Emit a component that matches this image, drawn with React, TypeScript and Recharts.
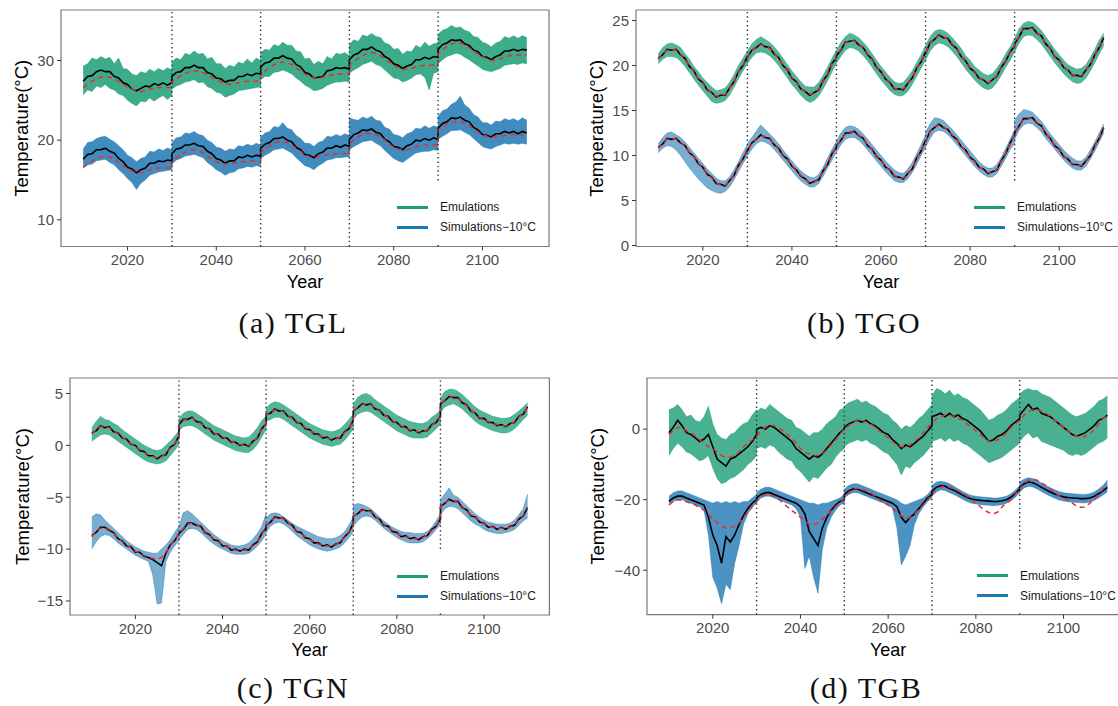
import React from 'react';
import { ComposedChart, Area, Line, XAxis, YAxis, ReferenceLine, ReferenceArea } from 'recharts';

// years: five 20-year blocks, block edges repeated so each block starts fresh
const YEARS = [
  2010, 2011, 2012, 2013, 2014, 2015, 2016, 2017, 2018, 2019, 2020, 2021, 2022, 2023, 2024, 2025, 2026, 2027, 2028, 2029, 2030,
  2030, 2031, 2032, 2033, 2034, 2035, 2036, 2037, 2038, 2039, 2040, 2041, 2042, 2043, 2044, 2045, 2046, 2047, 2048, 2049, 2050,
  2050, 2051, 2052, 2053, 2054, 2055, 2056, 2057, 2058, 2059, 2060, 2061, 2062, 2063, 2064, 2065, 2066, 2067, 2068, 2069, 2070,
  2070, 2071, 2072, 2073, 2074, 2075, 2076, 2077, 2078, 2079, 2080, 2081, 2082, 2083, 2084, 2085, 2086, 2087, 2088, 2089, 2090,
  2090, 2091, 2092, 2093, 2094, 2095, 2096, 2097, 2098, 2099, 2100, 2101, 2102, 2103, 2104, 2105, 2106, 2107, 2108, 2109, 2110,
];
const X_TICKS = [2020, 2040, 2060, 2080, 2100];
const BREAKS = [2030, 2050, 2070, 2090];

// ---- (a) TGL ----
const TGL_EMU_LO = [
  25.7, 26.3, 26.1, 26.8, 26.6, 27.0, 26.5, 26.3, 25.8, 25.6, 25.0, 24.6, 24.3, 24.9, 24.8, 25.3, 24.9, 25.3, 25.6, 25.1, 25.6,
  26.4, 26.8, 27.0, 27.3, 27.4, 27.6, 27.2, 27.3, 26.7, 26.5, 26.0, 25.9, 25.4, 25.6, 25.8, 26.2, 26.3, 26.4, 26.5, 26.6, 26.7,
  27.6, 28.0, 28.0, 28.5, 28.6, 28.8, 28.6, 28.3, 27.8, 27.4, 26.9, 26.6, 26.2, 26.3, 26.5, 26.9, 27.1, 27.3, 27.3, 27.4, 27.3,
  28.4, 28.8, 29.1, 29.5, 29.7, 29.9, 29.5, 29.3, 28.8, 28.3, 27.8, 27.7, 27.3, 27.5, 27.8, 28.2, 28.3, 27.9, 26.3, 28.4, 28.6,
  29.6, 30.1, 30.5, 30.7, 30.9, 30.8, 30.4, 30.1, 29.7, 29.3, 28.9, 28.7, 28.6, 28.8, 29.0, 29.4, 29.5, 29.6, 29.5, 29.7, 29.6,
];
const TGL_EMU_HI = [
  29.3, 29.6, 30.3, 30.1, 30.5, 30.2, 30.4, 29.6, 30.3, 29.0, 28.9, 28.3, 28.1, 28.6, 28.4, 28.9, 28.6, 29.0, 28.7, 29.1, 28.8,
  29.8, 30.3, 30.1, 30.9, 30.7, 31.2, 30.8, 30.9, 30.2, 30.4, 29.6, 29.6, 29.0, 29.4, 29.2, 29.8, 29.6, 30.2, 29.7, 30.3, 30.0,
  31.0, 31.4, 31.3, 32.0, 31.8, 32.3, 31.9, 31.9, 31.2, 31.1, 30.2, 30.3, 29.5, 29.9, 29.6, 30.5, 30.2, 30.9, 30.8, 31.0, 30.6,
  32.0, 32.6, 32.4, 33.2, 33.0, 33.4, 33.0, 32.9, 32.2, 32.0, 31.4, 31.5, 30.8, 31.2, 31.1, 31.9, 31.6, 32.3, 31.8, 32.1, 32.2,
  33.3, 33.8, 34.0, 34.4, 34.1, 34.2, 33.8, 33.6, 33.0, 32.9, 32.3, 32.1, 31.7, 32.2, 32.4, 33.0, 32.8, 33.1, 32.8, 33.1, 32.9,
];
const TGL_EMU_MEAN = [
  27.4, 28.0, 28.1, 28.6, 28.8, 28.6, 28.6, 28.0, 27.8, 27.2, 27.0, 26.4, 26.2, 26.5, 26.8, 26.7, 27.1, 26.9, 27.2, 26.9, 27.2,
  28.0, 28.5, 28.6, 29.1, 29.1, 29.4, 29.1, 29.1, 28.5, 28.3, 27.8, 27.7, 27.3, 27.5, 27.5, 28.0, 28.0, 28.3, 28.1, 28.4, 28.3,
  29.2, 29.7, 29.8, 30.3, 30.3, 30.6, 30.3, 30.2, 29.5, 29.2, 28.5, 28.3, 27.8, 27.9, 28.0, 28.7, 28.8, 29.1, 29.0, 29.1, 28.9,
  30.1, 30.7, 30.9, 31.4, 31.4, 31.7, 31.3, 31.1, 30.5, 30.2, 29.6, 29.4, 29.0, 29.3, 29.5, 30.1, 30.1, 30.4, 30.2, 30.5, 30.4,
  31.4, 32.0, 32.2, 32.6, 32.5, 32.6, 32.1, 31.9, 31.3, 31.1, 30.5, 30.4, 30.1, 30.5, 30.7, 31.2, 31.2, 31.4, 31.2, 31.4, 31.3,
];
const TGL_EMU_REF = [
  26.6, 27.0, 27.4, 27.7, 27.9, 28.0, 27.9, 27.7, 27.4, 27.0, 26.7, 26.4, 26.2, 26.1, 26.2, 26.4, 26.5, 26.6, 26.6, 26.6, 26.6,
  27.3, 27.7, 28.1, 28.4, 28.6, 28.7, 28.7, 28.5, 28.2, 27.9, 27.6, 27.3, 27.1, 27.0, 27.1, 27.2, 27.3, 27.4, 27.4, 27.4, 27.5,
  28.2, 28.7, 29.1, 29.5, 29.7, 29.8, 29.7, 29.5, 29.1, 28.7, 28.3, 28.0, 27.8, 27.8, 27.9, 28.1, 28.2, 28.3, 28.3, 28.3, 28.4,
  29.4, 29.9, 30.3, 30.6, 30.9, 31.0, 30.9, 30.6, 30.2, 29.8, 29.4, 29.1, 28.9, 28.9, 29.0, 29.2, 29.3, 29.4, 29.4, 29.4, 29.4,
  30.8, 31.3, 31.8, 32.1, 32.2, 32.2, 32.0, 31.6, 31.2, 30.8, 30.5, 30.2, 30.0, 30.0, 30.2, 30.4, 30.6, 30.7, 30.7, 30.7, 30.7,
];
const TGL_SIM_LO = [
  16.5, 16.9, 17.0, 17.4, 17.5, 17.6, 17.2, 16.9, 16.3, 15.8, 15.2, 14.7, 13.8, 14.6, 15.0, 15.6, 15.8, 16.0, 16.1, 16.2, 16.3,
  17.0, 17.5, 17.7, 18.0, 18.1, 18.2, 18.0, 17.8, 17.2, 16.8, 16.3, 16.0, 15.6, 15.9, 16.0, 16.4, 16.5, 16.7, 16.6, 16.8, 16.7,
  17.7, 18.1, 18.4, 18.8, 18.9, 19.0, 18.7, 18.4, 17.8, 17.3, 16.8, 16.6, 16.3, 16.8, 17.1, 17.5, 17.6, 17.8, 17.8, 17.9, 17.9,
  18.8, 19.2, 19.5, 19.8, 19.9, 20.0, 19.6, 19.3, 18.7, 18.2, 17.7, 17.4, 17.2, 17.6, 18.0, 18.4, 18.5, 18.6, 18.6, 18.8, 18.7,
  20.1, 20.5, 20.8, 21.2, 21.2, 21.3, 21.0, 20.7, 20.2, 19.7, 19.2, 19.0, 18.9, 19.2, 19.4, 19.6, 19.5, 19.6, 19.5, 19.6, 19.5,
];
const TGL_SIM_HI = [
  18.9, 19.7, 19.8, 20.2, 20.4, 20.5, 20.1, 19.8, 19.3, 18.8, 18.1, 17.8, 17.3, 17.7, 17.9, 18.6, 18.5, 18.9, 18.7, 19.0, 18.8,
  19.7, 20.3, 20.4, 20.9, 20.8, 21.1, 20.7, 20.6, 20.0, 19.7, 19.1, 19.0, 18.6, 18.9, 18.8, 19.3, 19.2, 19.5, 19.3, 19.6, 19.4,
  20.4, 20.9, 21.1, 21.7, 21.6, 22.2, 21.5, 21.3, 20.6, 20.2, 19.6, 19.6, 19.2, 19.7, 19.9, 20.5, 20.4, 20.7, 20.5, 20.8, 20.6,
  22.8, 22.6, 22.5, 22.9, 22.7, 23.0, 22.5, 22.4, 21.6, 21.4, 20.7, 20.6, 20.3, 20.8, 21.0, 21.5, 21.4, 21.8, 21.5, 21.8, 21.6,
  23.0, 23.7, 23.9, 24.5, 24.8, 25.5, 24.4, 24.0, 23.2, 22.9, 22.2, 22.2, 21.9, 22.4, 22.3, 22.7, 22.5, 22.7, 22.4, 22.8, 22.5,
];
const TGL_SIM_MEAN = [
  17.6, 18.2, 18.3, 18.8, 18.8, 19.0, 18.6, 18.4, 17.7, 17.3, 16.6, 16.4, 15.9, 16.3, 16.5, 17.1, 17.1, 17.4, 17.3, 17.5, 17.4,
  18.3, 18.9, 19.0, 19.4, 19.4, 19.6, 19.3, 19.2, 18.6, 18.3, 17.7, 17.5, 17.1, 17.4, 17.4, 17.9, 17.8, 18.1, 17.9, 18.1, 18.0,
  19.0, 19.5, 19.7, 20.2, 20.2, 20.4, 20.0, 19.8, 19.1, 18.8, 18.2, 18.1, 17.8, 18.3, 18.5, 19.0, 19.0, 19.3, 19.1, 19.4, 19.2,
  20.1, 20.7, 20.9, 21.3, 21.2, 21.4, 21.0, 20.8, 20.1, 19.8, 19.2, 19.1, 18.8, 19.3, 19.5, 20.0, 19.9, 20.2, 20.0, 20.3, 20.1,
  21.5, 22.1, 22.3, 22.8, 22.7, 22.9, 22.5, 22.3, 21.6, 21.3, 20.7, 20.6, 20.4, 20.8, 20.8, 21.1, 20.9, 21.1, 20.8, 21.1, 20.9,
];
const TGL_SIM_REF = [
  16.6, 17.0, 17.4, 17.7, 17.9, 18.0, 17.9, 17.6, 17.2, 16.8, 16.4, 16.1, 15.9, 15.9, 16.1, 16.3, 16.4, 16.5, 16.5, 16.5, 16.5,
  17.3, 17.8, 18.2, 18.5, 18.7, 18.8, 18.7, 18.4, 18.0, 17.6, 17.3, 17.1, 17.0, 17.0, 17.1, 17.2, 17.3, 17.3, 17.4, 17.4, 17.4,
  18.4, 18.9, 19.3, 19.6, 19.8, 19.8, 19.7, 19.4, 19.0, 18.6, 18.2, 17.9, 17.8, 17.9, 18.0, 18.2, 18.3, 18.3, 18.3, 18.3, 18.4,
  19.5, 20.0, 20.4, 20.7, 20.8, 20.8, 20.7, 20.4, 20.0, 19.5, 19.1, 18.9, 18.8, 18.8, 19.0, 19.2, 19.3, 19.4, 19.4, 19.4, 19.4,
  21.3, 21.7, 22.0, 22.2, 22.3, 22.3, 22.1, 21.8, 21.4, 21.0, 20.7, 20.5, 20.4, 20.4, 20.5, 20.6, 20.7, 20.7, 20.7, 20.7, 20.7,
];

// ---- (b) TGO ----
const TGO_EMU_LO = [
  20.2, 20.7, 21.0, 21.0, 20.9, 20.5, 19.9, 19.2, 18.5, 17.8, 17.2, 16.6, 16.0, 15.8, 15.9, 16.1, 16.7, 17.6, 18.5, 19.4, 20.2,
  20.2, 20.9, 21.4, 21.5, 21.4, 21.1, 20.6, 20.0, 19.3, 18.6, 17.9, 17.3, 16.7, 16.2, 15.9, 16.1, 16.6, 17.4, 18.3, 19.3, 20.2,
  20.3, 21.0, 21.7, 22.0, 21.9, 21.6, 21.1, 20.5, 19.8, 19.1, 18.4, 17.8, 17.2, 16.8, 16.6, 16.7, 17.1, 17.9, 18.8, 19.7, 20.6,
  20.6, 21.6, 22.2, 22.5, 22.4, 22.1, 21.6, 21.0, 20.3, 19.6, 19.0, 18.4, 17.9, 17.5, 17.3, 17.5, 18.1, 18.9, 19.8, 20.6, 21.5,
  21.5, 22.5, 23.2, 23.4, 23.3, 22.9, 22.4, 21.7, 21.0, 20.3, 19.7, 19.1, 18.6, 18.2, 18.0, 18.1, 18.6, 19.4, 20.3, 21.3, 22.2,
];
const TGO_EMU_HI = [
  21.3, 22.0, 22.4, 22.5, 22.3, 22.0, 21.3, 20.7, 19.9, 19.3, 18.6, 18.1, 17.6, 17.2, 17.3, 17.5, 18.1, 19.0, 20.0, 20.8, 21.6,
  21.6, 22.4, 22.9, 23.2, 22.9, 22.6, 22.1, 21.5, 20.8, 20.1, 19.4, 18.8, 18.2, 17.7, 17.6, 17.6, 18.1, 18.9, 19.8, 20.8, 21.7,
  21.7, 22.6, 23.2, 23.6, 23.4, 23.1, 22.6, 22.0, 21.3, 20.6, 19.9, 19.3, 18.7, 18.2, 18.0, 18.1, 18.7, 19.4, 20.3, 21.2, 22.2,
  22.2, 23.2, 23.8, 24.0, 23.9, 23.6, 23.1, 22.5, 21.9, 21.1, 20.6, 19.9, 19.5, 19.1, 18.9, 19.1, 19.7, 20.4, 21.3, 22.1, 23.0,
  23.0, 24.1, 24.7, 24.9, 24.8, 24.4, 23.9, 23.2, 22.5, 21.8, 21.2, 20.6, 20.1, 19.8, 19.6, 19.7, 20.1, 20.9, 21.8, 22.8, 23.6,
];
const TGO_EMU_MEAN = [
  20.8, 21.2, 21.8, 21.7, 21.8, 21.2, 20.8, 19.9, 19.4, 18.5, 18.1, 17.3, 17.0, 16.5, 16.7, 16.7, 17.5, 18.2, 19.3, 20.0, 21.0,
  20.9, 21.7, 22.0, 22.4, 22.1, 22.0, 21.3, 20.9, 20.0, 19.5, 18.6, 18.2, 17.4, 17.1, 16.7, 17.0, 17.3, 18.3, 19.0, 20.2, 20.9,
  21.1, 21.7, 22.6, 22.7, 22.8, 22.3, 22.0, 21.2, 20.7, 19.8, 19.3, 18.5, 18.1, 17.4, 17.4, 17.3, 18.0, 18.6, 19.7, 20.4, 21.5,
  21.3, 22.5, 22.9, 23.4, 23.1, 23.0, 22.3, 21.9, 21.0, 20.5, 19.7, 19.3, 18.6, 18.4, 18.0, 18.4, 18.8, 19.8, 20.5, 21.5, 22.2,
  22.4, 23.2, 24.1, 24.1, 24.2, 23.6, 23.3, 22.4, 21.9, 21.0, 20.6, 19.8, 19.5, 18.9, 18.9, 18.8, 19.5, 20.1, 21.2, 22.0, 23.1,
];
const TGO_EMU_REF = [
  20.7, 21.3, 21.7, 21.8, 21.7, 21.3, 20.7, 20.0, 19.3, 18.6, 18.0, 17.4, 16.9, 16.6, 16.6, 16.8, 17.4, 18.3, 19.2, 20.1, 20.9,
  20.9, 21.6, 22.1, 22.3, 22.2, 21.9, 21.4, 20.8, 20.1, 19.4, 18.7, 18.1, 17.5, 17.0, 16.8, 16.9, 17.4, 18.2, 19.1, 20.1, 21.0,
  21.0, 21.8, 22.5, 22.8, 22.7, 22.4, 21.9, 21.3, 20.6, 19.9, 19.2, 18.6, 18.0, 17.5, 17.3, 17.4, 17.9, 18.7, 19.6, 20.5, 21.4,
  21.4, 22.4, 23.0, 23.3, 23.2, 22.9, 22.4, 21.8, 21.1, 20.4, 19.8, 19.2, 18.7, 18.3, 18.1, 18.3, 18.9, 19.7, 20.6, 21.4, 22.3,
  22.3, 23.3, 24.0, 24.2, 24.1, 23.7, 23.2, 22.5, 21.8, 21.1, 20.5, 19.9, 19.4, 19.0, 18.8, 18.9, 19.4, 20.2, 21.1, 22.1, 23.0,
];
const TGO_SIM_LO = [
  10.3, 10.8, 11.1, 11.0, 10.6, 10.0, 9.3, 8.6, 8.0, 7.4, 6.9, 6.4, 6.1, 5.9, 5.8, 6.0, 6.5, 7.3, 8.2, 9.1, 9.9,
  10.0, 10.7, 11.3, 11.6, 11.5, 11.2, 10.7, 10.1, 9.5, 8.9, 8.3, 7.7, 7.2, 6.8, 6.5, 6.5, 6.9, 7.7, 8.6, 9.5, 10.4,
  10.4, 11.2, 11.8, 12.0, 12.0, 11.7, 11.2, 10.6, 10.0, 9.4, 8.8, 8.2, 7.7, 7.2, 7.0, 7.0, 7.4, 8.1, 9.0, 10.0, 10.9,
  10.9, 11.9, 12.6, 12.8, 12.7, 12.3, 11.8, 11.2, 10.6, 10.0, 9.4, 8.8, 8.3, 7.9, 7.6, 7.6, 8.0, 8.8, 9.7, 10.7, 11.3,
  11.8, 12.8, 13.4, 13.6, 13.5, 13.1, 12.6, 11.9, 11.3, 10.7, 10.1, 9.5, 9.0, 8.6, 8.4, 8.4, 8.8, 9.6, 10.5, 11.5, 12.5,
];
const TGO_SIM_HI = [
  11.3, 12.0, 12.5, 12.6, 12.3, 12.0, 11.5, 10.9, 10.3, 9.7, 9.1, 8.5, 8.0, 7.5, 7.2, 7.2, 7.6, 8.4, 9.3, 10.3, 11.2,
  11.3, 12.0, 12.7, 13.4, 12.9, 12.4, 11.9, 11.3, 10.6, 10.0, 9.4, 8.8, 8.3, 7.9, 7.6, 7.5, 7.9, 8.7, 9.7, 10.7, 11.6,
  11.6, 12.5, 13.1, 13.3, 13.2, 12.9, 12.4, 11.8, 11.2, 10.6, 10.0, 9.4, 8.9, 8.4, 8.1, 8.0, 8.5, 9.2, 10.2, 11.2, 12.3,
  12.6, 13.5, 14.2, 14.1, 13.9, 13.4, 12.9, 12.3, 11.7, 11.1, 10.5, 9.9, 9.3, 8.9, 8.6, 8.6, 9.0, 9.8, 10.8, 11.8, 12.9,
  13.9, 14.6, 15.1, 15.0, 14.8, 14.3, 13.8, 13.1, 12.4, 11.8, 11.2, 10.6, 10.1, 9.7, 9.4, 9.4, 9.8, 10.6, 11.5, 12.5, 13.5,
];
const TGO_SIM_MEAN = [
  10.9, 11.3, 11.9, 11.8, 11.9, 11.4, 11.1, 10.3, 9.9, 9.1, 8.7, 7.9, 7.6, 6.9, 6.8, 6.6, 7.2, 7.8, 8.9, 9.6, 10.6,
  10.5, 11.4, 11.8, 12.3, 12.0, 11.9, 11.2, 10.8, 10.0, 9.6, 8.8, 8.4, 7.7, 7.4, 6.9, 7.1, 7.3, 8.3, 9.0, 10.2, 10.9,
  11.1, 11.7, 12.5, 12.5, 12.7, 12.2, 11.9, 11.1, 10.7, 9.9, 9.5, 8.7, 8.4, 7.7, 7.6, 7.4, 8.0, 8.5, 9.7, 10.5, 11.7,
  11.5, 12.7, 13.1, 13.5, 13.1, 12.9, 12.2, 11.8, 11.0, 10.6, 9.8, 9.4, 8.7, 8.5, 8.0, 8.2, 8.4, 9.4, 10.2, 11.4, 12.3,
  12.5, 13.3, 14.1, 14.1, 14.2, 13.6, 13.3, 12.4, 11.9, 11.1, 10.7, 9.9, 9.6, 9.0, 9.0, 8.8, 9.4, 10.0, 11.1, 11.9, 13.1,
];
const TGO_SIM_REF = [
  10.8, 11.4, 11.8, 11.9, 11.8, 11.5, 11.0, 10.4, 9.8, 9.2, 8.6, 8.0, 7.5, 7.0, 6.7, 6.7, 7.1, 7.9, 8.8, 9.7, 10.5,
  10.5, 11.3, 11.9, 12.2, 12.1, 11.8, 11.3, 10.7, 10.1, 9.5, 8.9, 8.3, 7.8, 7.3, 7.0, 7.0, 7.4, 8.2, 9.1, 10.1, 11.0,
  11.0, 11.8, 12.4, 12.6, 12.6, 12.3, 11.8, 11.2, 10.6, 10.0, 9.4, 8.8, 8.3, 7.8, 7.5, 7.5, 7.9, 8.6, 9.6, 10.6, 11.6,
  11.6, 12.6, 13.2, 13.4, 13.2, 12.8, 12.3, 11.7, 11.1, 10.5, 9.9, 9.3, 8.8, 8.4, 8.1, 8.1, 8.5, 9.3, 10.3, 11.3, 12.4,
  12.4, 13.4, 14.0, 14.2, 14.1, 13.7, 13.2, 12.5, 11.8, 11.2, 10.6, 10.0, 9.5, 9.1, 8.9, 8.9, 9.3, 10.1, 11.0, 12.0, 13.0,
];

// ---- (c) TGN ----
const TGN_EMU_LO = [
  0.4, 0.7, 1.0, 1.1, 1.0, 0.7, 0.4, 0.1, -0.2, -0.5, -0.8, -1.1, -1.4, -1.6, -1.7, -1.8, -1.7, -1.5, -1.0, -0.5, 0.1,
  1.4, 1.8, 1.9, 1.9, 1.7, 1.4, 1.1, 0.8, 0.5, 0.3, 0.1, -0.1, -0.3, -0.5, -0.6, -0.7, -0.7, -0.4, 0.1, 0.8, 1.5,
  2.3, 2.5, 2.7, 2.7, 2.5, 2.2, 1.9, 1.6, 1.3, 1.0, 0.7, 0.5, 0.3, 0.1, 0.0, -0.1, 0.0, 0.1, 0.5, 1.0, 1.6,
  2.5, 3.0, 3.2, 3.3, 3.2, 2.9, 2.6, 2.3, 2.0, 1.7, 1.4, 1.2, 1.0, 0.8, 0.7, 0.7, 0.7, 0.8, 1.2, 1.6, 2.0,
  3.2, 3.7, 3.9, 4.0, 3.8, 3.5, 3.1, 2.7, 2.3, 2.0, 1.8, 1.6, 1.4, 1.3, 1.2, 1.2, 1.3, 1.6, 2.0, 2.5, 2.9,
];
const TGN_EMU_HI = [
  1.7, 2.3, 2.8, 2.5, 2.4, 2.1, 1.9, 1.5, 1.2, 0.9, 0.6, 0.3, 0.0, -0.2, -0.4, -0.5, -0.4, 0.0, 0.4, 0.9, 1.4,
  2.6, 3.1, 3.3, 3.3, 3.1, 2.8, 2.5, 2.2, 1.9, 1.7, 1.5, 1.3, 1.1, 0.9, 0.8, 0.7, 0.8, 1.2, 1.7, 2.4, 2.8,
  3.6, 4.0, 4.2, 4.1, 3.9, 3.6, 3.3, 3.0, 2.7, 2.4, 2.1, 1.9, 1.7, 1.5, 1.4, 1.3, 1.4, 1.6, 2.0, 2.5, 3.0,
  4.0, 4.6, 4.9, 5.0, 4.8, 4.4, 4.1, 3.8, 3.5, 3.2, 2.9, 2.7, 2.5, 2.3, 2.2, 2.1, 2.1, 2.3, 2.7, 3.0, 3.4,
  4.6, 5.2, 5.4, 5.4, 5.2, 4.9, 4.5, 4.1, 3.7, 3.4, 3.2, 3.0, 2.8, 2.7, 2.6, 2.6, 2.7, 3.0, 3.3, 3.7, 4.1,
];
const TGN_EMU_MEAN = [
  1.2, 1.4, 1.9, 1.7, 1.8, 1.3, 1.2, 0.7, 0.6, 0.1, 0.0, -0.5, -0.6, -1.0, -1.0, -1.3, -1.0, -0.9, -0.2, 0.1, 0.9,
  2.0, 2.5, 2.5, 2.7, 2.3, 2.2, 1.7, 1.6, 1.1, 1.1, 0.7, 0.7, 0.3, 0.3, 0.0, 0.1, -0.1, 0.4, 0.7, 1.6, 2.1,
  3.0, 3.1, 3.5, 3.3, 3.3, 2.8, 2.7, 2.2, 2.1, 1.6, 1.5, 1.1, 1.1, 0.7, 0.8, 0.5, 0.7, 0.7, 1.3, 1.6, 2.4,
  3.3, 3.6, 4.0, 3.9, 4.0, 3.5, 3.4, 2.9, 2.8, 2.3, 2.2, 1.8, 1.8, 1.4, 1.5, 1.2, 1.4, 1.4, 2.0, 2.2, 2.8,
  4.0, 4.3, 4.7, 4.6, 4.6, 4.1, 3.9, 3.3, 3.1, 2.6, 2.6, 2.2, 2.2, 1.9, 2.0, 1.8, 2.1, 2.2, 2.8, 3.0, 3.7,
];
const TGN_EMU_REF = [
  1.1, 1.5, 1.8, 1.8, 1.7, 1.4, 1.1, 0.8, 0.5, 0.2, -0.1, -0.4, -0.7, -0.9, -1.1, -1.2, -1.1, -0.8, -0.3, 0.2, 0.8,
  2.0, 2.4, 2.6, 2.6, 2.4, 2.1, 1.8, 1.5, 1.2, 1.0, 0.8, 0.6, 0.4, 0.2, 0.1, 0.0, 0.0, 0.3, 0.8, 1.5, 2.2,
  2.9, 3.2, 3.4, 3.4, 3.2, 2.9, 2.6, 2.3, 2.0, 1.7, 1.4, 1.2, 1.0, 0.8, 0.7, 0.6, 0.6, 0.8, 1.2, 1.7, 2.3,
  3.2, 3.7, 3.9, 4.0, 3.9, 3.6, 3.3, 3.0, 2.7, 2.4, 2.1, 1.9, 1.7, 1.5, 1.4, 1.3, 1.3, 1.5, 1.9, 2.3, 2.7,
  3.9, 4.4, 4.6, 4.7, 4.5, 4.2, 3.8, 3.4, 3.0, 2.7, 2.5, 2.3, 2.1, 2.0, 1.9, 1.9, 2.0, 2.3, 2.7, 3.1, 3.6,
];
const TGN_SIM_LO = [
  -10.0, -9.3, -8.8, -8.6, -8.7, -9.0, -9.4, -9.7, -10.0, -10.3, -10.6, -10.8, -11.0, -11.2, -12.5, -15.3, -15.2, -11.2, -10.3, -9.7, -9.2,
  -9.1, -8.6, -8.1, -8.0, -8.1, -8.4, -8.8, -9.2, -9.5, -9.8, -10.0, -10.2, -10.4, -10.5, -10.5, -10.5, -10.4, -10.1, -9.7, -9.2, -8.6,
  -8.4, -7.8, -7.5, -7.4, -7.6, -7.9, -8.3, -8.7, -9.0, -9.3, -9.6, -9.8, -10.0, -10.1, -10.2, -10.1, -10.0, -9.8, -9.4, -8.9, -8.3,
  -7.8, -7.3, -6.9, -6.8, -6.9, -7.2, -7.6, -8.0, -8.3, -8.6, -8.9, -9.1, -9.3, -9.4, -9.4, -9.4, -9.3, -9.0, -8.6, -8.1, -7.6,
  -6.7, -6.1, -5.9, -5.9, -6.1, -6.5, -6.9, -7.3, -7.6, -7.8, -8.1, -8.3, -8.4, -8.5, -8.5, -8.4, -8.3, -8.1, -7.7, -7.3, -7.0,
];
const TGN_SIM_HI = [
  -6.9, -6.6, -6.7, -7.2, -7.6, -8.0, -8.4, -8.8, -9.2, -9.5, -9.8, -10.0, -10.2, -10.3, -10.4, -10.4, -10.0, -9.6, -9.1, -8.4, -7.8,
  -7.8, -6.5, -6.3, -6.6, -7.0, -7.4, -7.8, -8.2, -8.6, -8.9, -9.2, -9.4, -9.6, -9.7, -9.7, -9.6, -9.4, -9.0, -8.5, -7.8, -6.6,
  -7.0, -6.6, -6.5, -6.6, -6.9, -7.2, -7.5, -7.8, -8.0, -8.2, -8.4, -8.6, -8.8, -8.9, -9.0, -9.0, -8.9, -8.7, -8.3, -7.7, -6.9,
  -5.8, -5.6, -5.7, -5.9, -6.1, -6.5, -6.9, -7.3, -7.6, -7.9, -8.1, -8.3, -8.4, -8.4, -8.5, -8.5, -8.5, -8.3, -7.9, -7.3, -6.6,
  -5.2, -4.7, -4.1, -4.8, -5.0, -5.4, -5.8, -6.2, -6.6, -6.9, -7.2, -7.4, -7.5, -7.6, -7.6, -7.6, -7.5, -7.2, -6.7, -6.1, -4.7,
];
const TGN_SIM_MEAN = [
  -8.7, -8.4, -7.9, -7.9, -8.2, -8.4, -9.0, -9.2, -9.7, -9.8, -10.3, -10.3, -10.7, -10.8, -11.0, -11.3, -11.6, -10.4, -9.6, -9.2, -8.5,
  -8.5, -8.1, -7.5, -7.5, -7.7, -7.8, -8.4, -8.6, -9.1, -9.2, -9.7, -9.7, -10.1, -10.0, -10.2, -10.0, -10.1, -9.6, -9.3, -8.5, -8.0,
  -7.7, -7.4, -6.9, -7.0, -7.0, -7.5, -7.7, -8.3, -8.4, -8.9, -9.0, -9.4, -9.4, -9.7, -9.6, -9.8, -9.5, -9.4, -8.8, -8.4, -7.5,
  -6.8, -6.6, -6.2, -6.3, -6.3, -6.9, -7.1, -7.7, -7.8, -8.3, -8.4, -8.8, -8.7, -9.0, -8.9, -9.1, -8.8, -8.7, -8.1, -7.8, -7.1,
  -5.9, -5.6, -5.2, -5.4, -5.4, -6.0, -6.2, -6.8, -6.9, -7.4, -7.5, -7.9, -7.8, -8.1, -7.9, -8.1, -7.8, -7.7, -7.1, -6.8, -6.0,
];
const TGN_SIM_REF = [
  -8.8, -8.3, -8.0, -7.9, -8.1, -8.5, -8.9, -9.3, -9.6, -9.9, -10.2, -10.4, -10.6, -10.8, -10.9, -11.0, -10.8, -10.3, -9.7, -9.1, -8.6,
  -8.6, -8.0, -7.6, -7.5, -7.6, -7.9, -8.3, -8.7, -9.0, -9.3, -9.6, -9.8, -10.0, -10.1, -10.1, -10.1, -10.0, -9.7, -9.2, -8.6, -7.9,
  -7.8, -7.3, -7.0, -6.9, -7.1, -7.4, -7.8, -8.2, -8.5, -8.8, -9.1, -9.3, -9.5, -9.6, -9.7, -9.7, -9.6, -9.3, -8.9, -8.3, -7.6,
  -6.9, -6.5, -6.3, -6.2, -6.4, -6.8, -7.2, -7.6, -7.9, -8.2, -8.5, -8.7, -8.8, -8.9, -9.0, -9.0, -8.9, -8.6, -8.2, -7.7, -7.2,
  -6.0, -5.5, -5.3, -5.3, -5.5, -5.9, -6.3, -6.7, -7.0, -7.3, -7.6, -7.8, -7.9, -8.0, -8.0, -8.0, -7.9, -7.6, -7.2, -6.7, -6.1,
];

// ---- (d) TGB ----
const TGB_EMU_LO = [
  -7.5, -5.5, -4.0, -5.0, -6.5, -7.0, -8.0, -9.0, -8.5, -7.5, -11.0, -14.0, -15.5, -15.0, -14.0, -13.5, -12.5, -11.5, -10.0, -9.0, -7.5,
  -5.5, -5.0, -5.5, -4.5, -5.0, -6.5, -7.5, -8.5, -9.0, -11.0, -12.0, -13.5, -15.0, -13.5, -14.0, -12.5, -11.0, -10.0, -8.0, -6.5, -5.5,
  -5.0, -4.0, -3.5, -3.0, -3.5, -3.0, -4.0, -4.5, -5.5, -6.5, -7.0, -8.5, -10.0, -13.0, -10.5, -11.0, -9.5, -8.5, -7.5, -6.0, -4.5,
  -3.5, -3.0, -2.5, -3.5, -2.5, -3.5, -3.0, -4.0, -4.5, -5.5, -6.5, -7.5, -8.5, -9.5, -9.0, -8.5, -8.0, -7.0, -6.0, -5.0, -4.0,
  -3.5, -2.0, -1.0, -2.5, -2.0, -3.5, -4.0, -4.5, -5.0, -5.5, -6.0, -7.0, -7.5, -7.0, -7.5, -7.0, -6.0, -5.0, -4.0, -3.5, -2.5,
];
const TGB_EMU_HI = [
  5.5, 6.0, 7.0, 5.5, 3.5, 4.0, 2.5, 2.0, 3.5, 6.5, 1.5, -1.5, -2.5, -3.0, -1.5, -1.0, 0.5, 1.5, 2.0, 4.0, 5.5,
  5.0, 6.0, 5.5, 7.0, 6.0, 5.0, 4.0, 3.0, 2.5, 0.5, 0.0, -1.0, -2.0, -1.0, -1.0, 0.0, 1.5, 2.5, 3.5, 5.5, 6.0,
  6.5, 7.5, 8.0, 8.5, 7.5, 8.0, 7.0, 6.5, 5.5, 4.5, 4.0, 2.5, 1.5, 0.0, 1.0, 0.5, 1.5, 3.0, 4.0, 5.5, 7.0,
  9.5, 11.5, 11.0, 10.0, 11.0, 9.5, 10.0, 9.0, 8.5, 7.5, 6.5, 5.5, 4.0, 2.5, 3.0, 4.0, 4.5, 5.5, 7.0, 8.0, 9.0,
  10.0, 11.0, 11.5, 11.0, 11.0, 10.0, 9.5, 9.0, 8.0, 7.0, 6.0, 5.0, 4.0, 3.5, 4.0, 4.5, 5.5, 6.5, 8.0, 8.5, 9.5,
];
const TGB_EMU_MEAN = [
  -1.0, 0.5, 2.5, 1.0, -1.0, -1.5, -2.5, -3.5, -2.8, -1.5, -5.0, -8.5, -9.5, -10.5, -8.5, -8.0, -7.0, -6.0, -5.0, -3.5, -1.5,
  0.0, 0.5, 0.0, 1.0, 0.5, -0.5, -1.5, -2.5, -3.5, -5.5, -6.5, -7.5, -8.5, -7.5, -8.0, -7.0, -5.5, -4.0, -2.5, -1.0, 0.0,
  0.5, 1.5, 2.0, 2.5, 2.0, 2.5, 1.5, 1.0, 0.0, -1.0, -1.5, -3.0, -4.0, -5.5, -4.5, -5.0, -4.0, -3.0, -2.0, -0.5, 1.0,
  3.5, 4.0, 4.5, 3.5, 4.5, 3.5, 4.0, 3.0, 2.5, 1.5, 0.5, -0.5, -2.0, -3.5, -3.0, -2.0, -1.5, -0.5, 1.0, 2.0, 3.0,
  4.0, 5.5, 7.0, 5.5, 6.0, 4.5, 4.0, 3.5, 2.5, 1.5, 0.5, -0.5, -1.5, -2.0, -1.5, -1.0, 0.0, 1.0, 2.5, 3.0, 4.0,
];
const TGB_EMU_REF = [
  -1.5, -0.5, 0.5, 0.5, -0.5, -1.0, -2.0, -3.0, -4.0, -5.0, -5.5, -6.5, -7.5, -8.0, -8.0, -7.5, -6.5, -5.0, -4.0, -3.0, -2.0,
  -2.0, -0.5, 0.5, 1.0, 1.0, 0.5, -0.5, -1.5, -2.5, -4.0, -5.5, -6.5, -7.0, -7.5, -7.5, -7.0, -6.0, -4.5, -3.0, -1.5, 0.0,
  0.0, 1.0, 2.0, 2.5, 2.5, 2.0, 1.5, 0.5, -0.5, -1.5, -2.5, -3.5, -4.5, -5.0, -5.0, -4.5, -3.5, -2.5, -1.0, 0.5, 1.5,
  1.5, 3.0, 3.5, 4.0, 4.0, 3.5, 3.0, 2.5, 1.5, 0.5, -0.5, -1.5, -2.5, -3.5, -3.5, -3.0, -2.0, -1.0, 0.5, 1.5, 2.5,
  2.5, 4.0, 5.0, 5.5, 5.5, 5.0, 4.5, 3.5, 2.5, 1.5, 0.5, -0.5, -1.5, -2.0, -2.5, -2.0, -1.5, 0.0, 1.5, 3.0, 4.0,
];
const TGB_SIM_LO = [
  -21.0, -20.5, -20.0, -20.0, -20.5, -21.0, -21.5, -22.0, -23.0, -30.0, -42.0, -45.0, -49.5, -44.0, -45.5, -38.0, -33.0, -27.0, -24.0, -22.0, -21.0,
  -20.5, -19.5, -19.0, -19.0, -19.5, -20.0, -20.5, -21.0, -21.5, -22.5, -25.0, -39.5, -36.0, -42.0, -46.5, -34.0, -28.0, -25.0, -23.0, -21.5, -21.0,
  -19.5, -18.5, -18.0, -18.0, -18.5, -19.0, -19.5, -20.0, -20.5, -21.0, -21.5, -22.5, -28.0, -38.5, -36.0, -33.0, -27.0, -24.0, -22.0, -20.5, -19.5,
  -19.0, -17.8, -17.2, -17.4, -18.0, -18.5, -19.2, -19.9, -20.5, -21.0, -21.2, -21.4, -21.5, -21.6, -21.7, -21.6, -21.4, -21.0, -20.3, -19.3, -18.0,
  -17.8, -16.7, -16.2, -16.4, -17.0, -17.7, -18.4, -19.0, -19.6, -20.1, -20.4, -20.6, -20.7, -20.8, -20.9, -20.9, -20.7, -20.2, -19.5, -18.7, -17.8,
];
const TGB_SIM_HI = [
  -19.0, -18.0, -17.5, -17.5, -18.0, -18.5, -19.0, -19.5, -20.0, -20.5, -21.0, -20.5, -21.0, -20.5, -21.0, -20.5, -21.0, -20.5, -20.5, -19.5, -18.5,
  -18.0, -17.0, -16.5, -16.5, -17.0, -17.5, -18.0, -18.5, -19.0, -19.5, -20.0, -20.5, -21.0, -21.0, -21.5, -21.0, -21.0, -20.5, -20.0, -19.5, -18.5,
  -17.0, -16.0, -15.5, -15.5, -16.0, -16.5, -17.0, -17.5, -18.0, -18.5, -19.0, -19.5, -20.0, -21.0, -21.5, -21.0, -20.5, -20.0, -19.5, -18.5, -17.0,
  -16.0, -15.0, -14.8, -15.0, -15.5, -16.2, -17.0, -17.7, -18.3, -18.8, -19.0, -19.2, -19.3, -19.4, -19.5, -19.5, -19.3, -19.0, -18.3, -17.3, -16.0,
  -15.0, -14.2, -13.8, -14.0, -14.6, -15.3, -16.0, -16.6, -17.2, -17.7, -18.0, -18.2, -18.3, -18.4, -18.5, -18.5, -18.3, -17.8, -17.0, -16.0, -14.5,
];
const TGB_SIM_MEAN = [
  -20.5, -19.5, -19.0, -19.0, -19.5, -20.0, -20.5, -21.0, -21.5, -25.0, -30.0, -33.0, -38.0, -30.5, -32.0, -30.0, -27.0, -24.5, -22.5, -21.0, -20.0,
  -19.5, -18.5, -18.0, -18.0, -18.5, -19.0, -19.5, -20.0, -20.5, -21.0, -22.0, -24.0, -29.0, -31.0, -33.0, -28.0, -25.0, -23.0, -21.5, -20.5, -20.0,
  -18.5, -17.5, -17.0, -17.0, -17.5, -18.0, -18.5, -19.0, -19.5, -20.0, -20.5, -21.0, -22.0, -25.0, -26.5, -25.0, -24.0, -22.5, -21.0, -19.5, -18.5,
  -17.5, -16.5, -16.0, -16.2, -16.8, -17.3, -18.0, -18.7, -19.3, -19.8, -20.0, -20.2, -20.3, -20.4, -20.5, -20.5, -20.3, -20.0, -19.3, -18.3, -17.0,
  -16.5, -15.5, -15.0, -15.2, -15.8, -16.5, -17.2, -17.8, -18.4, -18.9, -19.2, -19.4, -19.5, -19.6, -19.7, -19.7, -19.5, -19.0, -18.3, -17.5, -16.5,
];
const TGB_SIM_REF = [
  -21.5, -20.5, -20.0, -20.2, -20.6, -21.0, -21.5, -22.2, -23.0, -24.2, -25.5, -26.5, -27.5, -28.0, -28.0, -27.5, -26.5, -25.0, -23.5, -22.0, -20.5,
  -20.5, -19.2, -18.5, -18.6, -19.0, -19.8, -21.0, -22.0, -23.0, -24.0, -25.0, -26.0, -27.0, -27.2, -26.5, -25.5, -24.5, -23.2, -22.0, -20.8, -19.5,
  -19.5, -18.0, -17.0, -16.8, -17.0, -17.5, -18.0, -19.0, -20.0, -20.8, -21.5, -22.5, -23.5, -24.5, -25.5, -25.0, -24.0, -22.8, -21.5, -20.0, -18.5,
  -18.5, -17.0, -16.5, -16.3, -16.5, -17.0, -17.5, -18.2, -19.0, -20.0, -21.0, -22.0, -23.0, -23.7, -24.0, -23.5, -22.0, -21.0, -20.0, -18.5, -17.0,
  -17.0, -15.5, -14.5, -14.2, -14.5, -15.2, -16.0, -17.0, -18.0, -19.0, -19.5, -20.2, -21.0, -21.8, -22.2, -22.0, -21.0, -19.8, -18.5, -17.0, -16.0,
];

const EMU_COLOR = '#1b9e77';
const SIM_COLOR = '#1f78b4';
const REF_COLOR = '#ee2a2a';
const X_DOMAIN: [number, number] = [2005, 2115];
const Y_AXIS_W = 60;
const X_AXIS_H = 45;
const PAD = 5;

const minus = (v: number) => (v < 0 ? '\u2212' + Math.abs(v) : String(v));

function buildRows(emuLo: number[], emuHi: number[], emuMean: number[], emuRef: number[],
  simLo: number[], simHi: number[], simMean: number[], simRef: number[]) {
  return YEARS.map((year, i) => ({
    year,
    emu: [emuLo[i], emuHi[i]],
    emuMean: emuMean[i],
    emuRef: emuRef[i],
    sim: [simLo[i], simHi[i]],
    simMean: simMean[i],
    simRef: simRef[i],
  }));
}

type PanelProps = {
  plot: { x: number; y: number; w: number; h: number };
  yDomain: [number, number];
  yTicks: number[];
  titleOffset: number;
  rows: any[];
  emuOpacity: number;
  simOpacity: number;
};

function Panel({ plot, yDomain, yTicks, titleOffset, rows, emuOpacity, simOpacity }: PanelProps) {
  const left = plot.x - Y_AXIS_W;
  const top = plot.y - PAD;
  return (
    <div style={{ position: 'absolute', left, top }}>
      <ComposedChart
        width={Y_AXIS_W + plot.w + PAD}
        height={PAD + plot.h + X_AXIS_H}
        data={rows}
        margin={{ top: PAD, right: PAD, bottom: 0, left: 0 }}
      >
        <XAxis
          dataKey="year"
          type="number"
          domain={X_DOMAIN}
          ticks={X_TICKS}
          allowDataOverflow
          height={X_AXIS_H}
          axisLine={false}
          tickSize={4}
          tickMargin={4}
          tickLine={{ stroke: '#333' }}
          tick={{ fontSize: 15, fill: '#4d4d4d' }}
          label={{ value: 'Year', position: 'insideBottom', offset: 4, style: { fontSize: 18, fill: '#000' } }}
        />
        <YAxis
          type="number"
          domain={yDomain}
          ticks={yTicks}
          allowDataOverflow
          width={Y_AXIS_W}
          axisLine={false}
          tickSize={4}
          tickMargin={3}
          tickLine={{ stroke: '#333' }}
          tick={{ fontSize: 15, fill: '#4d4d4d' }}
          tickFormatter={minus}
          label={{
            value: 'Temperature(°C)',
            angle: -90,
            position: 'insideLeft',
            offset: titleOffset,
            style: { textAnchor: 'middle', fontSize: 18.5, fill: '#000' },
          }}
        />
        <Area type="linear" dataKey="emu" fill={EMU_COLOR} fillOpacity={emuOpacity} stroke={EMU_COLOR}
          strokeOpacity={0.45} strokeWidth={1} isAnimationActive={false} />
        <Area type="linear" dataKey="sim" fill={SIM_COLOR} fillOpacity={simOpacity} stroke={SIM_COLOR}
          strokeOpacity={0.45} strokeWidth={1} isAnimationActive={false} />
        <Line type="linear" dataKey="emuMean" stroke="#000" strokeWidth={1.6} dot={false} isAnimationActive={false} />
        <Line type="linear" dataKey="simMean" stroke="#000" strokeWidth={1.6} dot={false} isAnimationActive={false} />
        <Line type="linear" dataKey="emuRef" stroke={REF_COLOR} strokeWidth={1.5} strokeDasharray="5 4" dot={false} isAnimationActive={false} />
        <Line type="linear" dataKey="simRef" stroke={REF_COLOR} strokeWidth={1.5} strokeDasharray="5 4" dot={false} isAnimationActive={false} />
        {BREAKS.map((b) => (
          <ReferenceLine key={b} x={b} stroke="#333" strokeWidth={1.4} strokeDasharray="1.4 3" />
        ))}
        <ReferenceArea x1={X_DOMAIN[0]} x2={X_DOMAIN[1]} y1={yDomain[0]} y2={yDomain[1]}
          fill="none" stroke="#7a7a7a" strokeWidth={1.2} />
      </ComposedChart>
      <div
        style={{
          position: 'absolute',
          left: Y_AXIS_W + plot.w - 166,
          top: PAD + plot.h - 64,
          width: 162,
          height: 60,
          background: '#fff',
        }}
      >
        {[
          { label: 'Emulations', color: EMU_COLOR, cy: 25 },
          { label: 'Simulations\u221210°C', color: SIM_COLOR, cy: 45 },
        ].map((e) => (
          <div key={e.label}>
            <div style={{ position: 'absolute', left: 14, top: e.cy - 1.5, width: 31, height: 3, background: e.color }} />
            <div style={{ position: 'absolute', left: 57, top: e.cy - 8, fontSize: 12, lineHeight: '16px', color: '#1a1a1a', whiteSpace: 'nowrap' }}>
              {e.label}
            </div>
          </div>
        ))}
      </div>
    </div>
  );
}

const CAPTIONS = [
  { text: '(a) TGL', x: 293, y: 323 },
  { text: '(b) TGO', x: 864, y: 323 },
  { text: '(c) TGN', x: 293, y: 688 },
  { text: '(d) TGB', x: 866, y: 688 },
];

export default function App() {
  const tgl = buildRows(TGL_EMU_LO, TGL_EMU_HI, TGL_EMU_MEAN, TGL_EMU_REF, TGL_SIM_LO, TGL_SIM_HI, TGL_SIM_MEAN, TGL_SIM_REF);
  const tgo = buildRows(TGO_EMU_LO, TGO_EMU_HI, TGO_EMU_MEAN, TGO_EMU_REF, TGO_SIM_LO, TGO_SIM_HI, TGO_SIM_MEAN, TGO_SIM_REF);
  const tgn = buildRows(TGN_EMU_LO, TGN_EMU_HI, TGN_EMU_MEAN, TGN_EMU_REF, TGN_SIM_LO, TGN_SIM_HI, TGN_SIM_MEAN, TGN_SIM_REF);
  const tgb = buildRows(TGB_EMU_LO, TGB_EMU_HI, TGB_EMU_MEAN, TGB_EMU_REF, TGB_SIM_LO, TGB_SIM_HI, TGB_SIM_MEAN, TGB_SIM_REF);

  return (
    <div
      style={{
        position: 'absolute',
        left: 0,
        top: 0,
        width: 1118,
        height: 706,
        overflow: 'hidden',
        background: '#fff',
        fontFamily: '"Liberation Sans", Arial, sans-serif',
      }}
    >
      <Panel plot={{ x: 61, y: 9.5, w: 488, h: 236.5 }} yDomain={[6.65, 36.34]} yTicks={[10, 20, 30]}
        titleOffset={20} rows={tgl} emuOpacity={0.85} simOpacity={0.85} />
      <Panel plot={{ x: 636, y: 9.5, w: 490, h: 236.5 }} yDomain={[-0.11, 26.17]} yTicks={[0, 5, 10, 15, 20, 25]}
        titleOffset={20} rows={tgo} emuOpacity={0.75} simOpacity={0.6} />
      <Panel plot={{ x: 69.6, y: 378, w: 479.4, h: 237 }} yDomain={[-16.35, 6.49]} yTicks={[-15, -10, -5, 0, 5]}
        titleOffset={12.4} rows={tgn} emuOpacity={0.75} simOpacity={0.6} />
      <Panel plot={{ x: 646.7, y: 378.3, w: 482.3, h: 236.7 }} yDomain={[-52.6, 14.5]} yTicks={[-40, -20, 0]}
        titleOffset={10.3} rows={tgb} emuOpacity={0.8} simOpacity={0.8} />
      {CAPTIONS.map((c) => (
        <div
          key={c.text}
          style={{
            position: 'absolute',
            left: c.x - 100,
            top: c.y - 15,
            width: 200,
            textAlign: 'center',
            fontFamily: '"Liberation Serif", serif',
            fontSize: 30,
            lineHeight: '30px',
            letterSpacing: 1.5,
            color: '#111',
          }}
        >
          {c.text}
        </div>
      ))}
    </div>
  );
}
